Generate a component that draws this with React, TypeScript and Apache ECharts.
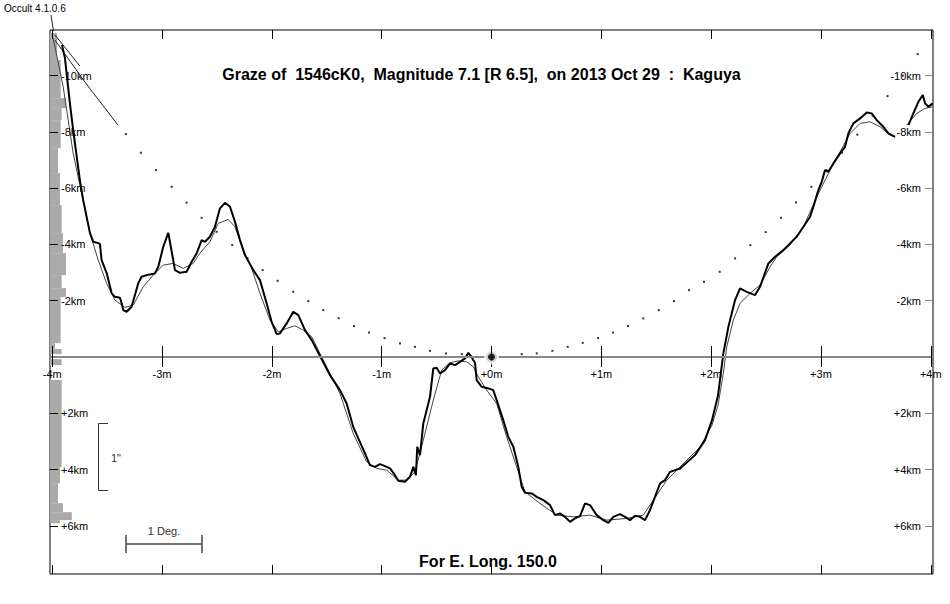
import React, { useEffect, useRef } from "react";
import * as echarts from "echarts";

// ---- axis definitions ----
const X_MIN = -4.02;
const X_MAX = 4.02;
const Y_MIN = -11.62;
const Y_MAX = 7.71;
const minuteTicks = [-4, -3, -2, -1, 0, 1, 2, 3, 4];
const kmTicks = [-10, -8, -6, -4, -2, 2, 4, 6];

const titleText = "Graze of  1546cK0,  Magnitude 7.1 [R 6.5],  on 2013 Oct 29  :  Kaguya";
const footerText = "For E. Long. 150.0";
const versionText = "Occult 4.1.0.6";

const GAP = ["-", "-"];

// detailed limb profile (minutes, km)
const limbProfile: any[] = [
  [-3.911, -11.084], [-3.884, -10.622], [-3.839, -9.023], [-3.809, -8.063], [-3.748, -6.287], [-3.718, -5.576],
  [-3.656, -4.403], [-3.626, -4.094], [-3.581, -4.048], [-3.565, -4.012], [-3.55, -3.444], [-3.504, -2.982],
  [-3.459, -2.271], [-3.429, -2.139], [-3.383, -2.104], [-3.368, -1.915], [-3.353, -1.667], [-3.322, -1.606],
  [-3.277, -1.784], [-3.217, -2.616], [-3.186, -2.85], [-3.14, -2.91], [-3.065, -2.971], [-3.034, -3.205],
  [-2.989, -3.916], [-2.943, -4.414], [-2.898, -3.444], [-2.882, -3.088], [-2.837, -2.992], [-2.776, -3.028],
  [-2.73, -3.383], [-2.685, -3.682], [-2.639, -4.154], [-2.609, -4.094], [-2.564, -4.272], [-2.518, -4.627],
  [-2.473, -5.281], [-2.427, -5.48], [-2.381, -5.338], [-2.336, -4.805], [-2.29, -4.154], [-2.245, -3.621],
  [-2.169, -3.088], [-2.108, -2.733], [-2.047, -1.905], [-2.002, -1.251], [-1.956, -0.814], [-1.926, -0.839],
  [-1.865, -1.194], [-1.805, -1.606], [-1.759, -1.489], [-1.698, -0.956], [-1.637, -0.601], [-1.577, -0.149],
  [-1.471, 0.643], [-1.38, 1.176], [-1.319, 1.649], [-1.259, 2.48], [-1.213, 2.893], [-1.152, 3.426],
  [-1.107, 3.842], [-1.061, 3.902], [-1.015, 3.806], [-0.97, 3.877], [-0.924, 3.959], [-0.879, 4.197],
  [-0.849, 4.399], [-0.788, 4.435], [-0.742, 4.257], [-0.712, 3.902], [-0.688, 4.197], [-0.676, 3.191],
  [-0.651, 3.486], [-0.621, 2.36], [-0.56, 1.414], [-0.53, 0.405], [-0.499, 0.384], [-0.469, 0.583],
  [-0.423, 0.466], [-0.378, 0.227], [-0.332, 0.288], [-0.287, 0.171], [-0.241, 0.05], [-0.211, -0.149],
  [-0.187, -0.032], [-0.166, 0.11], [-0.15, 0.206], [-0.135, 0.821], [-0.089, 1.059], [-0.029, 1.116],
  [0.016, 1.176], [0.047, 1.532], [0.107, 2.242], [0.153, 2.836], [0.199, 3.191], [0.244, 3.902],
  [0.275, 4.613], [0.305, 4.826], [0.366, 4.847], [0.412, 4.968], [0.472, 5.085], [0.533, 5.263],
  [0.578, 5.618], [0.624, 5.558], [0.669, 5.679], [0.715, 5.856], [0.76, 5.736], [0.806, 5.654],
  [0.852, 5.203], [0.897, 5.263], [0.958, 5.618], [1.018, 5.796], [1.064, 5.892], [1.109, 5.679],
  [1.17, 5.583], [1.216, 5.679], [1.261, 5.796], [1.307, 5.643], [1.352, 5.679], [1.398, 5.796],
  [1.443, 5.441], [1.535, 4.492], [1.58, 4.375], [1.626, 4.08], [1.717, 3.959], [1.853, 3.486],
  [1.944, 2.953], [2.008, 2.242], [2.063, 1.354], [2.111, -0.128], [2.157, -1.073], [2.218, -2.022],
  [2.263, -2.438], [2.324, -2.317], [2.4, -2.2], [2.445, -2.495], [2.521, -3.326], [2.582, -3.561],
  [2.657, -3.799], [2.718, -4.037], [2.779, -4.272], [2.84, -4.627], [2.901, -4.982], [2.931, -5.338],
  [2.976, -5.931], [3.007, -6.226], [3.037, -6.642], [3.067, -6.581], [3.113, -6.88], [3.174, -7.235],
  [3.219, -7.47], [3.249, -7.946], [3.295, -8.301], [3.356, -8.479], [3.417, -8.692], [3.462, -8.657],
  [3.508, -8.419], [3.568, -8.181], [3.614, -7.946], [3.675, -7.825], GAP,
  [3.796, -8.241], [3.841, -8.657], [3.887, -9.069], [3.927, -9.307], [3.948, -9.012], [3.978, -8.891],
  [4.018, -9.012],
];

// smoothed profile (minutes, km)
const smoothProfile: any[] = [
  [-3.991, -11.322], [-3.9, -9.602], [-3.809, -7.235], [-3.732, -5.825], [-3.656, -4.403], [-3.581, -3.444],
  [-3.504, -2.616], [-3.429, -2.022], [-3.338, -1.763], [-3.262, -1.844], [-3.171, -2.495], [-3.08, -2.91],
  [-2.989, -3.266], [-2.898, -3.326], [-2.807, -3.149], [-2.716, -3.326], [-2.655, -3.692], [-2.564, -4.094],
  [-2.488, -4.748], [-2.397, -4.89], [-2.336, -4.627], [-2.26, -3.799], [-2.199, -3.326], [-2.108, -2.26],
  [-2.017, -1.311], [-1.942, -0.896], [-1.865, -1.016], [-1.79, -1.109], [-1.714, -0.956], [-1.637, -0.718],
  [-1.577, -0.245], [-1.38, 1.294], [-1.259, 2.715], [-1.137, 3.724], [-1.045, 3.959], [-0.954, 4.019],
  [-0.849, 4.375], [-0.772, 4.375], [-0.697, 4.08], [-0.621, 2.953], [-0.53, 1.532], [-0.454, 0.466],
  [-0.378, 0.206], [-0.302, 0.135], [-0.226, 0.171], [-0.166, 0.348], [-0.12, 0.704], [-0.044, 1.176],
  [0.047, 1.649], [0.138, 2.836], [0.229, 3.902], [0.305, 4.79], [0.442, 5.203], [0.594, 5.618],
  [0.745, 5.679], [0.897, 5.618], [1.049, 5.796], [1.231, 5.736], [1.382, 5.618], [1.474, 5.085],
  [1.596, 4.375], [1.717, 3.902], [1.899, 3.202], [2.008, 2.42], [2.063, 1.709], [2.111, 0.583],
  [2.142, -0.362], [2.202, -1.311], [2.263, -1.905], [2.354, -2.26], [2.445, -2.555], [2.536, -3.205],
  [2.597, -3.561], [2.718, -3.977], [2.84, -4.627], [2.962, -5.693], [3.083, -6.642], [3.174, -7.292],
  [3.265, -7.946], [3.356, -8.301], [3.447, -8.358], [3.538, -8.181], [3.629, -7.886], [3.675, -7.825], GAP,
  [3.781, -8.241], [3.872, -8.657], [3.948, -8.834], [4.018, -8.891],
];

// dotted limit curve (minutes, km)
const limitDots: number[][] = [
  [-3.329, -7.921], [-3.192, -7.257], [-3.055, -6.642], [-2.912, -6.048], [-2.776, -5.487], [-2.639, -4.947],
  [-2.503, -4.449], [-2.361, -3.977], [-2.222, -3.515], [-2.084, -3.088], [-1.947, -2.708], [-1.805, -2.317],
  [-1.668, -1.987], [-1.532, -1.667], [-1.392, -1.382], [-1.252, -1.098], [-1.116, -0.867], [-0.974, -0.672],
  [-0.833, -0.483], [-0.697, -0.362], [-0.56, -0.22], [-0.414, -0.128], [-0.271, -0.103],
  [0.275, -0.103], [0.412, -0.128], [0.554, -0.22], [0.694, -0.362], [0.831, -0.505], [0.97, -0.672],
  [1.107, -0.867], [1.243, -1.098], [1.382, -1.372], [1.523, -1.667], [1.662, -1.987], [1.799, -2.377],
  [1.935, -2.672], [2.078, -3.028], [2.218, -3.504], [2.357, -3.977], [2.497, -4.439], [2.636, -4.947],
  [2.773, -5.494], [2.912, -6.048], [3.051, -6.642], [3.192, -7.264], [3.331, -7.903], [3.47, -8.579],
  [3.606, -9.272], [3.745, -10.0], [3.881, -10.764],
];

// solid continuation lines at the upper left (minutes, km)
const limitLineA: number[][] = [[-3.975, -11.262], [-3.702, -9.769], [-3.401, -8.241]];
const limitLineB: number[][] = [[-3.975, -11.446], [-3.748, -10.338]];

const origin: number[][] = [[0, 0]];

// grey distribution bars at the left edge: [km from, km to, width in minutes]
const histogram: number[][] = [
  [-11.511, -10.551, 0.064], [-10.551, -9.199, 0.097], [-9.199, -8.843, 0.146], [-8.843, -8.417, 0.106],
  [-8.417, -7.423, 0.097], [-7.423, -6.535, 0.073], [-6.535, -5.398, 0.091], [-5.398, -4.403, 0.106],
  [-4.403, -3.692, 0.118], [-3.692, -2.91, 0.146], [-2.91, -2.448, 0.106], [-2.448, -2.129, 0.146],
  [-2.129, -0.494, 0.097], [-0.494, -0.281, 0.046], [-0.281, -0.103, 0.106],
  [0.075, 0.288, 0.106], [0.821, 3.913, 0.106], [3.913, 4.481, 0.091], [4.481, 5.192, 0.073],
  [5.192, 5.512, 0.118], [5.512, 5.796, 0.198], [5.796, 5.903, 0.091],
];

const FONT = 'Arial, "Liberation Sans", sans-serif';

const GRID_TOP = 30;
const GRID_BOTTOM = 30;
const CHART_H = 604;

const minuteLabel = (v: number) => (v === 0 ? "+0m" : v > 0 ? "+" + v + "m" : v + "m");
const kmLabel = (v: number) => (v > 0 ? "+" + v + "km" : v + "km");

export default function App() {
  const ref = useRef<HTMLDivElement>(null);

  useEffect(() => {
    if (!ref.current) return;
    const chart = echarts.init(ref.current, undefined, { renderer: "svg" });

    // offset that moves a bottom x axis up to the km = 0 line
    const gridH = CHART_H - GRID_TOP - GRID_BOTTOM;
    const zeroOffset = -(Y_MAX / (Y_MAX - Y_MIN)) * gridH;

    const tickOnlyAxis = (position: string, offset: number, inside: boolean, length: number) => ({
      type: "value",
      min: X_MIN,
      max: X_MAX,
      position,
      offset,
      axisLine: { show: false, onZero: false },
      axisTick: { show: true, inside, length, customValues: minuteTicks, lineStyle: { color: "#000", width: 1 } },
      axisLabel: { show: false },
      splitLine: { show: false },
      z: 6,
    });

    const option: any = {
      animation: false,
      backgroundColor: "#fff",
      grid: { left: 50, right: 17, top: GRID_TOP, bottom: GRID_BOTTOM, show: true, borderColor: "#000", borderWidth: 1 },
      xAxis: [
        {
          type: "value",
          min: X_MIN,
          max: X_MAX,
          position: "bottom",
          offset: zeroOffset,
          axisLine: { show: true, onZero: false, lineStyle: { color: "#888", width: 2 } },
          axisTick: { show: true, inside: false, length: 10, customValues: minuteTicks, lineStyle: { color: "#000", width: 1 } },
          axisLabel: { show: true, customValues: minuteTicks, formatter: minuteLabel, margin: 11, fontSize: 11, color: "#000", fontFamily: FONT },
          splitLine: { show: false },
          z: 5,
        },
        tickOnlyAxis("bottom", zeroOffset, true, 11),
        tickOnlyAxis("top", 0, true, 9),
        tickOnlyAxis("bottom", 0, true, 9),
      ],
      yAxis: [
        {
          type: "value",
          position: "left",
          min: Y_MIN,
          max: Y_MAX,
          inverse: true,
          axisLine: { show: false, onZero: false },
          axisTick: { show: true, inside: true, length: 8, customValues: kmTicks, lineStyle: { color: "#000", width: 1 } },
          axisLabel: { show: true, inside: true, customValues: kmTicks, formatter: kmLabel, margin: 11, fontSize: 11, color: "#000", fontFamily: FONT },
          splitLine: { show: false },
          z: 6,
        },
        {
          type: "value",
          position: "right",
          min: Y_MIN,
          max: Y_MAX,
          inverse: true,
          axisLine: { show: false, onZero: false },
          axisTick: { show: true, inside: true, length: 8, customValues: kmTicks, lineStyle: { color: "#888", width: 1 } },
          axisLabel: { show: true, inside: true, customValues: kmTicks, formatter: kmLabel, margin: 12, fontSize: 11, color: "#000", fontFamily: FONT },
          splitLine: { show: false },
          z: 6,
        },
      ],
      series: [
        {
          type: "custom",
          name: "distribution",
          xAxisIndex: 0,
          yAxisIndex: 0,
          data: histogram,
          encode: { x: 2, y: [0, 1] },
          clip: false,
          silent: true,
          z: 1,
          renderItem: (_params: any, api: any) => {
            const a = api.coord([X_MIN, api.value(0)]);
            const b = api.coord([X_MIN + api.value(2), api.value(1)]);
            return {
              type: "rect",
              shape: { x: a[0], y: Math.min(a[1], b[1]), width: b[0] - a[0], height: Math.abs(b[1] - a[1]) },
              style: { fill: "#aaaaaa" },
            };
          },
        },
        { type: "line", data: limitLineA, symbol: "none", lineStyle: { color: "#222", width: 1 }, silent: true, z: 2 },
        { type: "line", data: limitLineB, symbol: "none", lineStyle: { color: "#222", width: 1 }, silent: true, z: 2 },
        {
          type: "line",
          name: "smoothed",
          data: smoothProfile,
          symbol: "none",
          connectNulls: false,
          lineStyle: { color: "#444", width: 1 },
          silent: true,
          z: 3,
        },
        {
          type: "line",
          name: "profile",
          data: limbProfile,
          symbol: "none",
          connectNulls: false,
          lineStyle: { color: "#000", width: 2 },
          silent: true,
          z: 4,
        },
        {
          type: "scatter",
          name: "limit",
          data: limitDots,
          symbol: "rect",
          symbolSize: 2,
          itemStyle: { color: "#000" },
          silent: true,
          z: 4,
        },
        {
          type: "scatter",
          name: "origin",
          data: origin,
          symbol: "circle",
          symbolSize: 11,
          itemStyle: { color: "#000", borderColor: "#fff", borderWidth: 4 },
          silent: true,
          z: 5,
        },
      ],
      graphic: [
        { type: "text", left: 4, top: 3, style: { text: versionText, fontSize: 10, fontFamily: FONT, fill: "#000" } },
        { type: "line", shape: { x1: 51, y1: 15, x2: 53.5, y2: 31 }, style: { stroke: "#222", lineWidth: 1 } },
        {
          type: "text",
          x: 481.5,
          y: 74,
          style: { text: titleText, fontSize: 16, fontWeight: "bold", fontFamily: FONT, fill: "#000", align: "center", verticalAlign: "middle" },
        },
        {
          type: "text",
          x: 488,
          y: 561,
          style: { text: footerText, fontSize: 16, fontWeight: "bold", fontFamily: FONT, fill: "#000", align: "center", verticalAlign: "middle" },
        },
        // 1" bracket
        { type: "polyline", shape: { points: [[108, 423.5], [98.5, 423.5], [98.5, 490.5], [108, 490.5]] }, style: { stroke: "#333", lineWidth: 1, fill: null } },
        { type: "text", x: 111, y: 458, style: { text: '1"', fontSize: 11, fontFamily: FONT, fill: "#333", verticalAlign: "middle" } },
        // 1 Deg. bar
        { type: "line", shape: { x1: 126, y1: 544, x2: 202, y2: 544 }, style: { stroke: "#444", lineWidth: 1.5 } },
        { type: "line", shape: { x1: 126, y1: 535, x2: 126, y2: 553 }, style: { stroke: "#444", lineWidth: 1.5 } },
        { type: "line", shape: { x1: 202, y1: 535, x2: 202, y2: 553 }, style: { stroke: "#444", lineWidth: 1.5 } },
        { type: "text", x: 164, y: 531, style: { text: "1 Deg.", fontSize: 11, fontFamily: FONT, fill: "#333", align: "center", verticalAlign: "middle" } },
      ],
    };

    chart.setOption(option);
    return () => chart.dispose();
  }, []);

  return <div ref={ref} style={{ position: "fixed", left: 0, top: 0, width: 950, height: 604, background: "#fff" }} />;
}
